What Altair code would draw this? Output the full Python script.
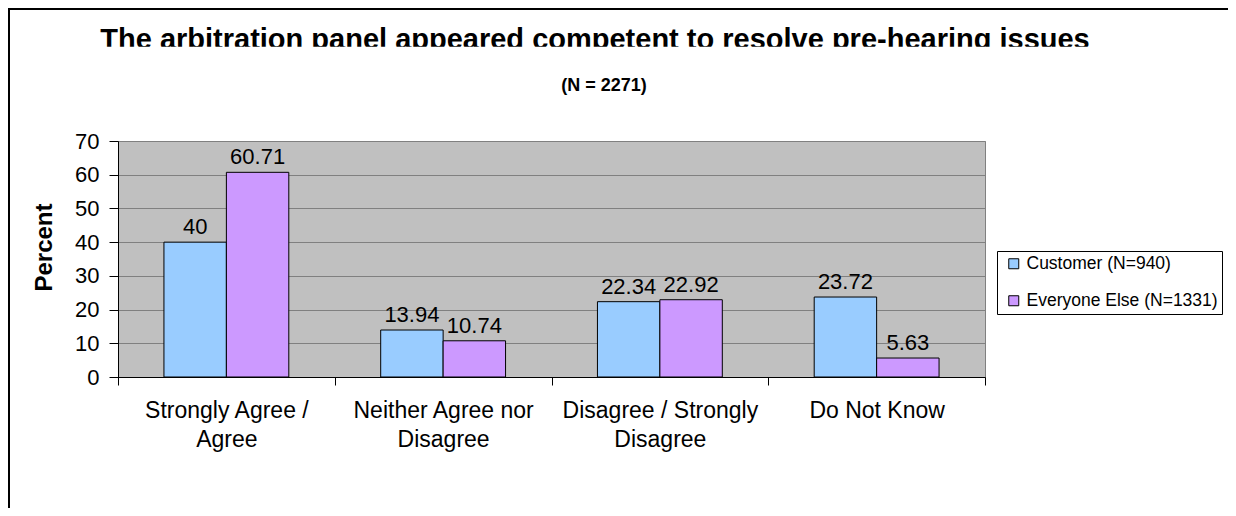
import altair as alt
import pandas as pd

FONT = "Liberation Sans, Arial, Helvetica, sans-serif"

categories = ["Strongly Agree /|Agree", "Neither Agree nor|Disagree",
              "Disagree / Strongly|Disagree", "Do Not Know"]
series = ["Customer (N=940)", "Everyone Else (N=1331)"]
customer = [40, 13.94, 22.34, 23.72]
everyone_else = [60.71, 10.74, 22.92, 5.63]
colors = ["#99CCFF", "#CC99FF"]
y_ticks = [0, 10, 20, 30, 40, 50, 60, 70]
title_text = "The arbitration panel appeared competent to resolve pre-hearing issues"
subtitle_text = "(N = 2271)"

rows = []
for cat, a, b in zip(categories, customer, everyone_else):
    rows.append({"cat": cat, "series": series[0], "value": a, "label": f"{a:g}"})
    rows.append({"cat": cat, "series": series[1], "value": b, "label": f"{b:g}"})
df = pd.DataFrame(rows)

W, H = 867, 236

x_enc = alt.X("cat:N", sort=categories,
              scale=alt.Scale(paddingInner=0, paddingOuter=0),
              axis=alt.Axis(title=None, labelAngle=0, tickBand="extent", tickSize=8,
                            tickColor="black", domainColor="black", labelColor="black",
                            labelFont=FONT, labelFontSize=23, labelPadding=14,
                            labelBaseline="top", labelLineHeight=29, labelLimit=400,
                            labelExpr="split(datum.label, '|')"))
xoff_enc = alt.XOffset("series:N", sort=series,
                       scale=alt.Scale(paddingInner=0, paddingOuter=0.736))
y_enc = alt.Y("value:Q", scale=alt.Scale(domain=[0, 70], nice=False),
              axis=alt.Axis(values=y_ticks, title="Percent", tickSize=9, labelPadding=10,
                            labelOverlap=False,
                            tickColor="black", domainColor="black", labelColor="black",
                            labelFont=FONT, labelFontSize=22,
                            grid=True, gridColor="#808080", gridWidth=1,
                            titleFont=FONT, titleFontSize=24, titleFontWeight="bold",
                            titleColor="black", titleAngle=270, titleX=-74, titleY=106,
                            titleAlign="center", titleBaseline="middle"))

bars = alt.Chart(df).mark_bar(stroke="black", strokeWidth=1).encode(
    x=x_enc, xOffset=xoff_enc, y=y_enc,
    color=alt.Color("series:N", sort=series,
                    scale=alt.Scale(domain=series, range=colors),
                    legend=alt.Legend(title=None, orient="none", legendX=879, legendY=110,
                                      symbolType="square", symbolSize=100,
                                      symbolStrokeColor="black", symbolStrokeWidth=1,
                                      labelFont=FONT, labelFontSize=17.5, labelColor="black",
                                      labelLimit=400, padding=4, rowPadding=18,
                                      labelOffset=4, symbolOffset=4,
                                      strokeColor="black", fillColor="white"))
)

labels = alt.Chart(df).mark_text(baseline="bottom", dy=-3, font=FONT, fontSize=22,
                                 color="black").encode(
    x=x_enc, xOffset=xoff_enc, y=y_enc, text="label:N")

one = pd.DataFrame({"k": [0]})

frame = alt.Chart(one).mark_rect(fill="white", fillOpacity=0, stroke="black",
                                 strokeWidth=2).encode(
    x=alt.value(-109), x2=alt.value(1400), y=alt.value(-132), y2=alt.value(700))

title = alt.Chart(one).mark_text(font=FONT, fontSize=29, fontWeight="bold", color="black",
                                 align="center", baseline="alphabetic").encode(
    x=alt.value(477), y=alt.value(-92), text=alt.value(title_text))

title_clip = alt.Chart(one).mark_rect(fill="white", stroke=None).encode(
    x=alt.value(-100), x2=alt.value(1090), y=alt.value(-94.3), y2=alt.value(-70))

subtitle = alt.Chart(one).mark_text(font=FONT, fontSize=18, fontWeight="bold",
                                    color="black", align="center",
                                    baseline="alphabetic").encode(
    x=alt.value(486), y=alt.value(-50), text=alt.value(subtitle_text))

chart = alt.layer(frame, bars, labels, title, title_clip, subtitle).properties(
    width=W, height=H,
    autosize=alt.AutoSizeParams(type="none"),
    padding={"left": 110, "top": 133, "right": 243, "bottom": 131},
    background="white",
).configure_view(fill="#C0C0C0", stroke="#808080", strokeWidth=1)

chart.save("out.html", embed_options={"renderer": "svg", "actions": False})
